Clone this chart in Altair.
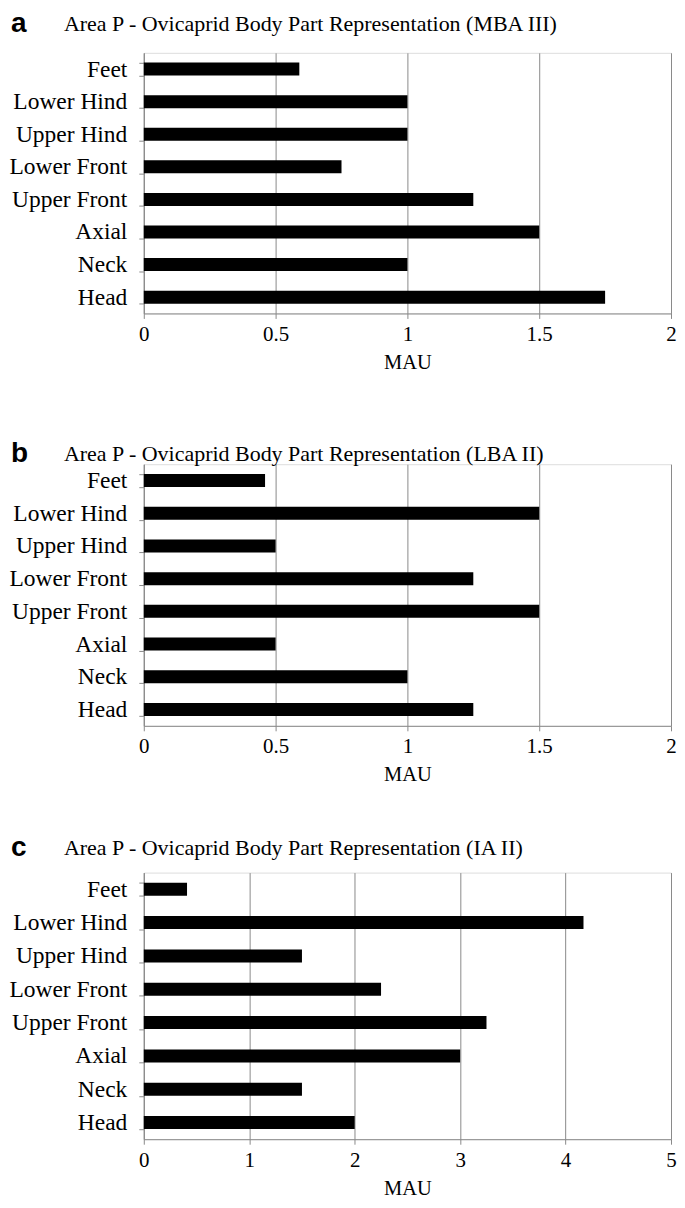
import altair as alt
import pandas as pd

parts = ["Feet", "Lower Hind", "Upper Hind", "Lower Front", "Upper Front", "Axial", "Neck", "Head"]

mba_iii = [0.59, 1.0, 1.0, 0.75, 1.25, 1.5, 1.0, 1.75]
lba_ii = [0.46, 1.5, 0.5, 1.25, 1.5, 0.5, 1.0, 1.25]
ia_ii = [0.41, 4.17, 1.5, 2.25, 3.25, 3.0, 1.5, 2.0]

letters = ["a", "b", "c"]
titles = [
    "Area P - Ovicaprid Body Part Representation (MBA III)",
    "Area P - Ovicaprid Body Part Representation (LBA II)",
    "Area P - Ovicaprid Body Part Representation (IA II)",
]
x_max = [2, 2, 5]
x_ticks = [[0, 0.5, 1, 1.5, 2], [0, 0.5, 1, 1.5, 2], [0, 1, 2, 3, 4, 5]]

SERIF = "Liberation Serif"
GRID = "#8a8a8a"


def panel(letter, title, values, xmax, ticks, height, title_y):
    df = pd.DataFrame({"part": parts, "MAU": values})
    bars = alt.Chart(df).mark_bar(color="black", size=13).encode(
        x=alt.X(
            "MAU:Q",
            scale=alt.Scale(domain=[0, xmax], nice=False),
            axis=alt.Axis(
                values=ticks,
                format="~g",
                title="MAU",
                grid=True,
                gridColor=GRID,
                gridWidth=1,
                domainColor=GRID,
                tickColor=GRID,
                tickSize=5,
                labelFont=SERIF,
                labelFontSize=21,
                labelColor="black",
                labelPadding=5,
                labelFlush=False,
                titleFont=SERIF,
                titleFontSize=20.5,
                titleFontWeight="normal",
                titleColor="black",
                titlePadding=8,
            ),
        ),
        y=alt.Y(
            "part:N",
            sort=parts,
            scale=alt.Scale(paddingInner=0.6, paddingOuter=0.3),
            axis=alt.Axis(
                title=None,
                tickBand="extent",
                domainColor=GRID,
                tickColor=GRID,
                tickSize=5,
                labelFont=SERIF,
                labelFontSize=23.5,
                labelColor="black",
                labelPadding=12,
            ),
        ),
    )
    tdf = pd.DataFrame({"letter": [letter], "title": [title]})
    letter_txt = alt.Chart(tdf).mark_text(
        font="Liberation Sans", fontWeight="bold", fontSize=28,
        align="left", baseline="middle", color="black",
    ).encode(x=alt.value(-133), y=alt.value(title_y), text="letter:N")
    title_txt = alt.Chart(tdf).mark_text(
        font=SERIF, fontSize=22, align="left", baseline="middle", color="black",
    ).encode(x=alt.value(-80), y=alt.value(title_y), text="title:N")
    return alt.layer(bars, letter_txt, title_txt).properties(width=528, height=height)


values_all = [mba_iii, lba_ii, ia_ii]
heights = [261, 262, 267]
title_ys = [-29, -10, -25]
p = [
    panel(letters[i], titles[i], values_all[i], x_max[i], x_ticks[i], heights[i], title_ys[i])
    for i in range(3)
]

chart = alt.vconcat(alt.vconcat(p[0], p[1], spacing=66), p[2], spacing=47).configure_view(
    stroke=None
).configure(padding={"left": 0, "top": 0, "right": 0, "bottom": 0})

chart.save("out.html", embed_options={"renderer": "svg", "actions": False})
